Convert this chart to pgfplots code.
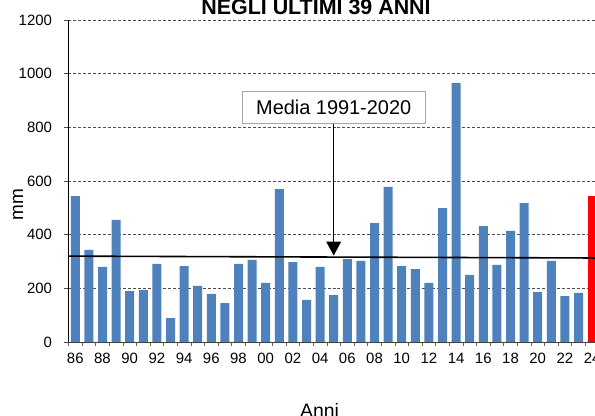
\documentclass[border=0pt]{standalone}
\usepackage{pgfplots}
\pgfplotsset{compat=1.18}
\usepackage{fontspec}
\setmainfont{Liberation Sans}
\definecolor{barblue}{RGB}{79,129,189}
\newcommand\tl[1]{\fontsize{15}{17}\selectfont #1}
\pgfplotstableread{
x v
0 544
1 343
2 280
3 455
4 190
5 194
6 291
7 89
8 283
9 209
10 179
11 145
12 291
13 306
14 220
15 570
16 298
17 157
18 280
19 175
20 309
21 302
22 443
23 578
24 283
25 272
26 220
27 499
28 965
29 250
30 432
31 287
32 414
33 518
34 186
35 302
36 171
37 183
}\blue
\pgfplotstableread{
x v
38 544
}\red
\begin{document}
\begin{tikzpicture}
\useasboundingbox (0bp,0bp) rectangle (595bp,416bp);
\clip (0bp,0bp) rectangle (595bp,416bp);
\begin{axis}[
  at={(68.5bp,74bp)}, anchor=south west,
  scale only axis, width=530.4bp, height=322bp,
  xmin=-0.5, xmax=38.5, ymin=0, ymax=1200,
  axis x line=bottom, axis y line=left,
  axis line style={-, black, line width=0.8pt},
  x axis line style={draw=black!75},
  xtick={0,2,...,38},
  xticklabels={\tl{86},\tl{88},\tl{90},\tl{92},\tl{94},\tl{96},\tl{98},\tl{00},\tl{02},\tl{04},\tl{06},\tl{08},\tl{10},\tl{12},\tl{14},\tl{16},\tl{18},\tl{20},\tl{22},\tl{24}},
  major x tick style={draw=none},
  minor xtick={-0.5,0.5,...,38.5},
  minor x tick style={draw=black!60, line width=0.6pt},
  minor tick length=4bp,
  ytick={0,200,...,1200},
  yticklabels={\tl{0},\tl{200},\tl{400},\tl{600},\tl{800},\tl{1000},\tl{1200}},
  y tick style={draw=black!70, line width=0.6pt},
  major tick length=4bp,
  tick align=outside,
  ymajorgrids,
  major grid style={densely dashed, black!70, line width=0.4pt},
  xticklabel style={yshift=-4bp},
  yticklabel style={xshift=-9bp},
  clip=false,
]
\addplot[ybar, bar width=9bp, fill=barblue, draw=none] table[x=x,y=v]{\blue};
\addplot[ybar, bar width=9bp, fill=red, draw=none] table[x=x,y=v]{\red};
\addplot[black, line width=1.6pt] coordinates {(-0.5,320) (38.5,313)};
\draw[black, line width=1pt] (axis cs:19,870) -- (axis cs:19,365);
\fill[black] (axis cs:19,322) ++(-7.5bp,14bp) -- ++(15bp,0bp) -- (axis cs:19,322) -- cycle;
\node[draw=black!35, fill=white, line width=0.8pt, minimum width=183bp, minimum height=32bp, inner sep=0pt, font=\fontsize{20}{22}\selectfont] at (axis cs:19,873) {Media 1991-2020};
\end{axis}
\node[font=\bfseries\fontsize{21.5}{24}\selectfont, anchor=base] at (316bp,401bp) {NEGLI ULTIMI 39 ANNI};
\node[font=\fontsize{19}{21}\selectfont, rotate=90, anchor=base] at (23bp,211bp) {mm};
\node[font=\fontsize{19.5}{22}\selectfont, anchor=base] at (319.5bp,-1bp) {Anni};
\end{tikzpicture}
\end{document}
